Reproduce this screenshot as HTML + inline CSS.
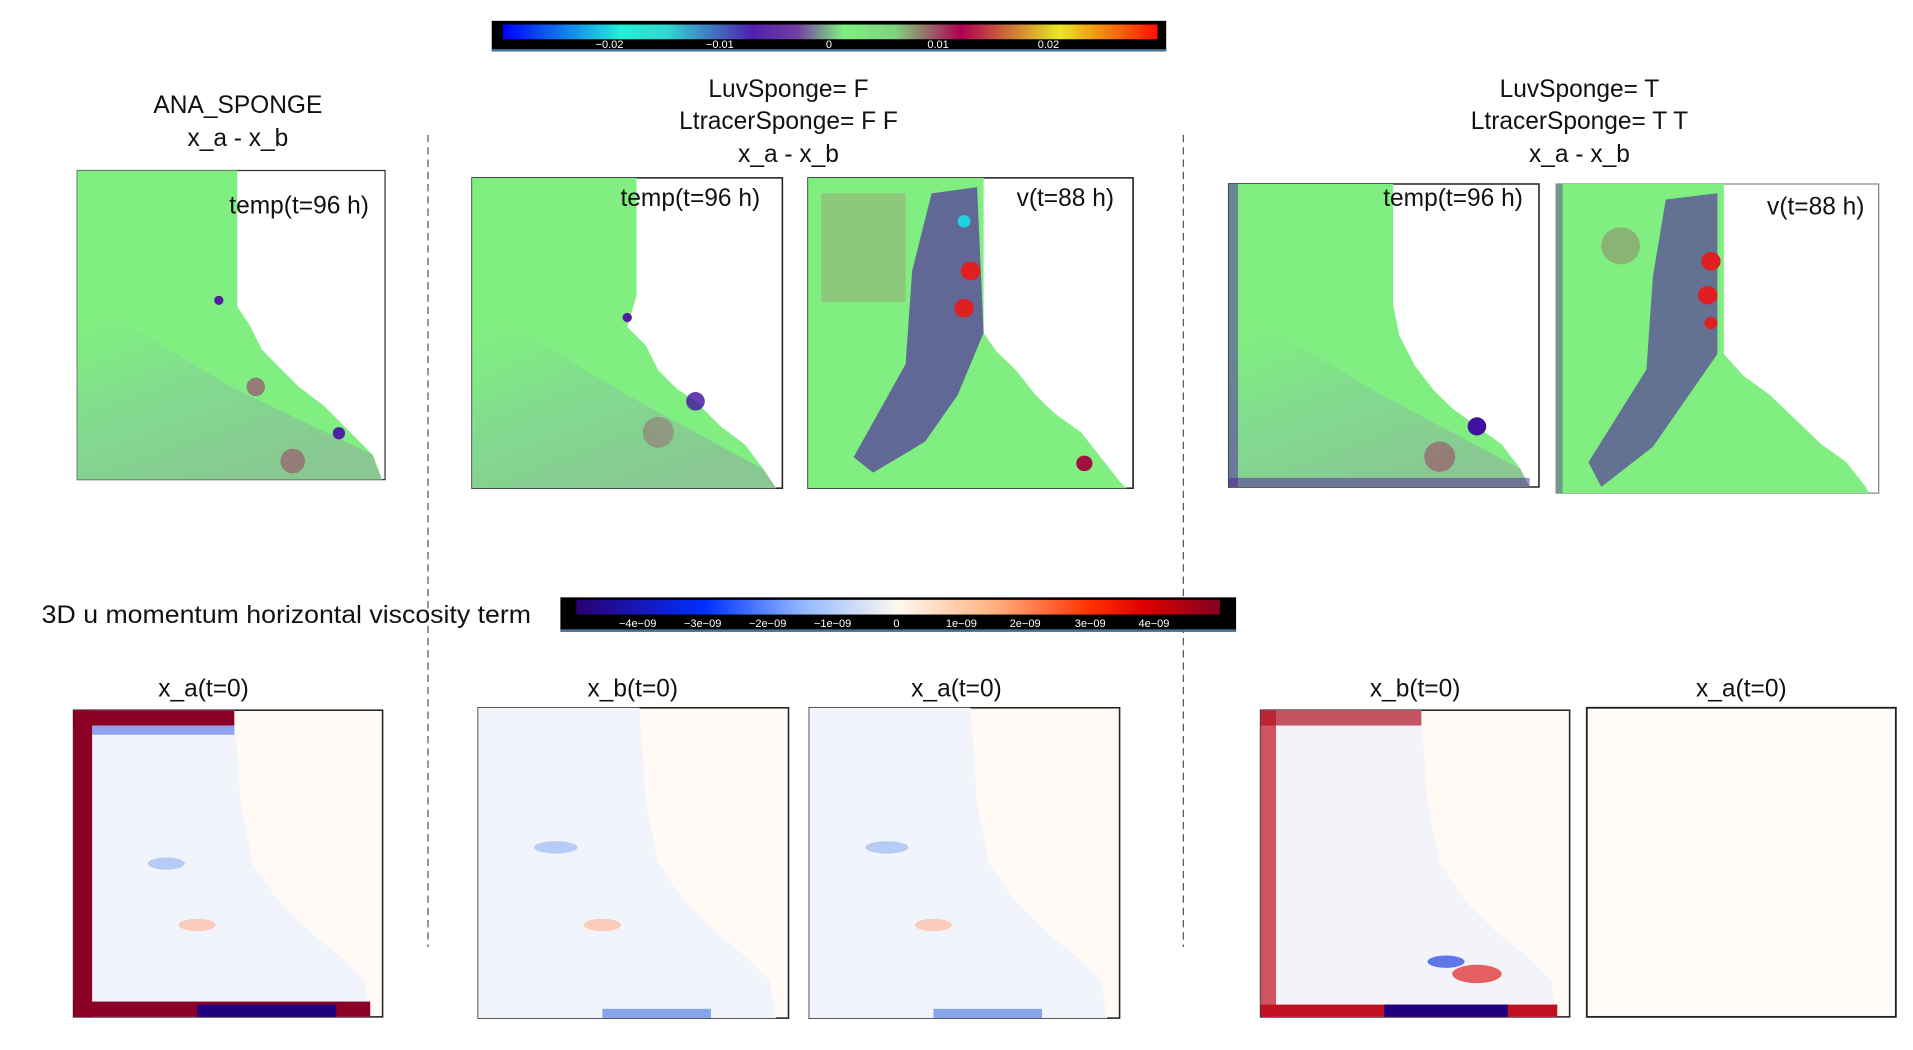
<!DOCTYPE html>
<html><head><meta charset="utf-8"><style>
html,body{margin:0;padding:0;background:#fff;width:1913px;height:1050px;overflow:hidden}
svg{display:block}
text{font-family:"Liberation Sans",sans-serif}
</style></head><body>
<svg width="1913" height="1050" viewBox="0 0 1560 856" preserveAspectRatio="none" xmlns="http://www.w3.org/2000/svg">
<defs>
<linearGradient id="cb1" x1="0" x2="1">
<stop offset="0" stop-color="#0000ff"/><stop offset="0.18" stop-color="#20f0d8"/><stop offset="0.25" stop-color="#30d8d0"/>
<stop offset="0.38" stop-color="#5020b0"/><stop offset="0.45" stop-color="#7040a0"/><stop offset="0.52" stop-color="#80f080"/>
<stop offset="0.6" stop-color="#80d080"/><stop offset="0.7" stop-color="#b00050"/><stop offset="0.85" stop-color="#e8e820"/><stop offset="1" stop-color="#ff1000"/>
</linearGradient>
<linearGradient id="cb2" x1="0" x2="1">
<stop offset="0" stop-color="#2a0070"/><stop offset="0.2" stop-color="#0030ff"/><stop offset="0.35" stop-color="#90b8ff"/>
<stop offset="0.5" stop-color="#fff8f0"/><stop offset="0.65" stop-color="#ffb080"/><stop offset="0.8" stop-color="#ff3000"/><stop offset="0.88" stop-color="#e00000"/><stop offset="1" stop-color="#800020"/>
</linearGradient>
<linearGradient id="gl" x1="0" y1="0" x2="0.6" y2="1">
<stop offset="0" stop-color="#80ee80" stop-opacity="0"/><stop offset="0.5" stop-color="#8a90c8" stop-opacity="0.2"/><stop offset="1" stop-color="#9a80b0" stop-opacity="0.35"/>
</linearGradient>
</defs>

<rect x="401" y="17" width="550" height="25" fill="#000"/>
<rect x="410" y="20" width="534" height="12" fill="url(#cb1)"/>
<rect x="401" y="40" width="550" height="2" fill="#4a7090"/>
<g font-size="9" fill="#fff" text-anchor="middle">
<text x="497" y="39">−0.02</text><text x="587" y="39">−0.01</text><text x="676" y="39">0</text><text x="765" y="39">0.01</text><text x="855" y="39">0.02</text></g>

<line x1="349" y1="110" x2="349" y2="772" stroke="#555" stroke-dasharray="6,4"/>
<line x1="965" y1="110" x2="965" y2="772" stroke="#555" stroke-dasharray="6,4"/>

<g font-size="20" fill="#111" text-anchor="middle">
<text x="194" y="92">ANA_SPONGE</text><text x="194" y="119">x_a - x_b</text>
<text x="643" y="79">LuvSponge= F</text><text x="643" y="105">LtracerSponge= F F</text><text x="643" y="132">x_a - x_b</text>
<text x="1288" y="79">LuvSponge= T</text><text x="1288" y="105">LtracerSponge= T T</text><text x="1288" y="132">x_a - x_b</text>
</g>

<g transform="translate(63,139) scale(2.51,2.52)">
<rect width="100" height="100" fill="#fff" stroke="#333" stroke-width="0.4"/>
<polygon points="0,0 52,0 52,44 56,50 60,58 66,64 72,70 80,76 88,84 96,92 99,100 0,100" fill="#80ee80"/>
<polygon points="0,40 50,70 96,92 99,100 0,100" fill="url(#gl)"/>
<circle cx="58" cy="70" r="3" fill="#a03070" opacity=".6"/><circle cx="70" cy="94" r="4" fill="#a03060" opacity=".5"/>
<circle cx="85" cy="85" r="2" fill="#5020a0"/><circle cx="46" cy="42" r="1.5" fill="#5020a0"/>
</g>
<g transform="translate(385,145) scale(2.53,2.53)">
<rect width="100" height="100" fill="#fff" stroke="#222" stroke-width="0.5"/>
<polygon points="0,0 53,0 53,38 50,48 56,54 60,62 66,68 72,72 80,80 88,86 94,94 98,100 0,100" fill="#80ee80"/>
<polygon points="0,40 50,70 94,94 98,100 0,100" fill="url(#gl)"/>
<circle cx="72" cy="72" r="3" fill="#4010a0" opacity=".8"/><circle cx="60" cy="82" r="5" fill="#a03060" opacity=".35"/>
<circle cx="50" cy="45" r="1.5" fill="#5020a0"/>
</g>
<g transform="translate(659,145) scale(2.65,2.53)">
<rect width="100" height="100" fill="#fff" stroke="#222" stroke-width="0.5"/>
<polygon points="0,0 54,0 54,50 58,56 64,62 70,70 76,76 84,82 90,90 96,98 98,100 0,100" fill="#80ee80"/>
<rect x="4" y="5" width="26" height="35" fill="#a88070" opacity=".35"/>
<polygon points="38,5 52,3 54,50 46,70 36,85 20,95 14,90 30,60 32,30" fill="#5020a0" opacity=".65"/>
<circle cx="50" cy="30" r="3" fill="#e02020"/><circle cx="48" cy="42" r="3" fill="#e02020"/>
<circle cx="48" cy="14" r="2" fill="#20d0e0"/><circle cx="85" cy="92" r="2.5" fill="#a01040"/>
</g>
<g transform="translate(1002,150) scale(2.53,2.47)">
<rect width="100" height="100" fill="#fff" stroke="#222" stroke-width="0.5"/>
<polygon points="0,0 53,0 53,40 55,50 60,60 66,68 72,74 80,80 88,86 94,94 97,100 0,100" fill="#80ee80"/>
<polygon points="0,40 50,70 94,94 97,100 0,100" fill="url(#gl)"/>
<rect x="0" y="0" width="3" height="100" fill="#5020a0" opacity=".5"/><rect x="0" y="97" width="97" height="3" fill="#5020a0" opacity=".5"/>
<circle cx="68" cy="90" r="5" fill="#a03060" opacity=".5"/><circle cx="80" cy="80" r="3" fill="#4010a0"/>
</g>
<g transform="translate(1269,150) scale(2.63,2.52)">
<rect width="100" height="100" fill="#fff" stroke="#888" stroke-width="0.4"/>
<polygon points="0,0 52,0 52,55 58,62 66,68 74,76 82,84 90,90 96,98 97,100 0,100" fill="#80ee80"/>
<polygon points="34,5 50,3 50,55 40,70 30,85 14,98 10,90 28,60 30,30" fill="#5020a0" opacity=".6"/>
<rect x="0" y="0" width="2" height="100" fill="#5020a0" opacity=".4"/>
<circle cx="48" cy="25" r="3" fill="#e02020"/><circle cx="47" cy="36" r="3" fill="#e02020"/><circle cx="48" cy="45" r="2" fill="#e02020"/>
<circle cx="20" cy="20" r="6" fill="#a03060" opacity=".3"/>
</g>
<g font-size="20" fill="#111">
<text x="187" y="174">temp(t=96 h)</text><text x="506" y="168">temp(t=96 h)</text><text x="829" y="168">v(t=88 h)</text>
<text x="1128" y="168">temp(t=96 h)</text><text x="1441" y="175">v(t=88 h)</text></g>

<text x="34" y="508" font-size="20" fill="#111" textLength="399" lengthAdjust="spacingAndGlyphs">3D u momentum horizontal viscosity term</text>
<rect x="457" y="487" width="551" height="28" fill="#000"/>
<rect x="470" y="489" width="525" height="12" fill="url(#cb2)"/>
<rect x="457" y="513" width="551" height="2" fill="#4a7090"/>
<g font-size="9" fill="#fff" text-anchor="middle">
<text x="520" y="511">−4e−09</text><text x="573" y="511">−3e−09</text><text x="626" y="511">−2e−09</text><text x="679" y="511">−1e−09</text><text x="731" y="511">0</text>
<text x="784" y="511">1e−09</text><text x="836" y="511">2e−09</text><text x="889" y="511">3e−09</text><text x="941" y="511">4e−09</text></g>

<g font-size="20" fill="#111" text-anchor="middle">
<text x="166" y="568">x_a(t=0)</text><text x="516" y="568">x_b(t=0)</text><text x="780" y="568">x_a(t=0)</text>
<text x="1154" y="568">x_b(t=0)</text><text x="1420" y="568">x_a(t=0)</text></g>

<g transform="translate(60,579) scale(2.52,2.5)">
<rect width="100" height="100" fill="#fffaf6" stroke="#222" stroke-width="0.5"/>
<polygon points="0,0 52,0 54,30 58,50 66,62 76,72 86,80 94,88 96,100 0,100" fill="#f2f4fb"/>
<rect x="0" y="0" width="6" height="100" fill="#8b0025"/><rect x="0" y="0" width="52" height="5" fill="#8b0025"/>
<rect x="0" y="95" width="96" height="5" fill="#8b0025"/><rect x="40" y="96" width="45" height="4" fill="#200080"/>
<rect x="6" y="5" width="46" height="3" fill="#3050e0" opacity=".5"/>
<ellipse cx="40" cy="70" rx="6" ry="2" fill="#ffb090" opacity=".6"/><ellipse cx="30" cy="50" rx="6" ry="2" fill="#90b0f0" opacity=".6"/>
</g>
<g transform="translate(390,577) scale(2.53,2.53)">
<rect width="100" height="100" fill="#fffaf6" stroke="#222" stroke-width="0.5"/>
<polygon points="0,0 52,0 54,30 58,50 66,62 76,72 86,80 94,88 96,100 0,100" fill="#f2f4fb"/>
<rect x="40" y="97" width="35" height="3" fill="#4070e0" opacity=".6"/>
<ellipse cx="40" cy="70" rx="6" ry="2" fill="#ffb090" opacity=".6"/><ellipse cx="25" cy="45" rx="7" ry="2" fill="#90b0f0" opacity=".6"/>
</g>
<g transform="translate(660,577) scale(2.53,2.53)">
<rect width="100" height="100" fill="#fffaf6" stroke="#222" stroke-width="0.5"/>
<polygon points="0,0 52,0 54,30 58,50 66,62 76,72 86,80 94,88 96,100 0,100" fill="#f2f4fb"/>
<rect x="40" y="97" width="35" height="3" fill="#4070e0" opacity=".6"/>
<ellipse cx="40" cy="70" rx="6" ry="2" fill="#ffb090" opacity=".6"/><ellipse cx="25" cy="45" rx="7" ry="2" fill="#90b0f0" opacity=".6"/>
</g>
<g transform="translate(1028,579) scale(2.52,2.5)">
<rect width="100" height="100" fill="#fffaf6" stroke="#222" stroke-width="0.5"/>
<polygon points="0,0 52,0 54,30 58,50 66,62 76,72 86,80 94,88 96,100 0,100" fill="#f2f4fa"/>
<rect x="0" y="0" width="5" height="100" fill="#c01020" opacity=".7"/><rect x="0" y="0" width="52" height="5" fill="#b01020" opacity=".7"/>
<rect x="0" y="96" width="96" height="4" fill="#c01020"/><rect x="40" y="96" width="40" height="4" fill="#200080"/>
<ellipse cx="70" cy="86" rx="8" ry="3" fill="#e02020" opacity=".7"/><ellipse cx="60" cy="82" rx="6" ry="2" fill="#2040e0" opacity=".7"/>
</g>
<rect x="1294" y="577" width="252" height="252" fill="#fffcfa" stroke="#222" stroke-width="1.5"/>
</svg>
</body></html>
